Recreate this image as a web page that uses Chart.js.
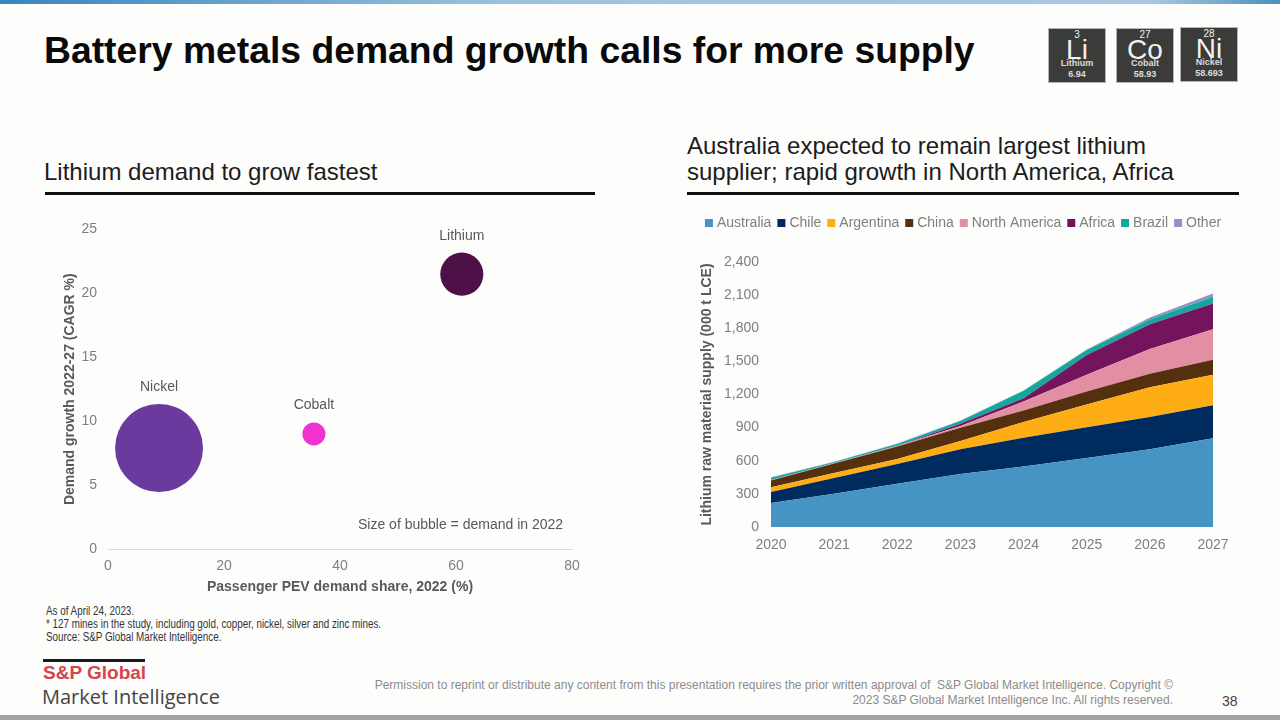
<!DOCTYPE html>
<html>
<head>
<meta charset="utf-8">
<title>Battery metals demand growth</title>
<script src="https://cdn.jsdelivr.net/npm/chart.js@4"></script>
<style>
  html, body { margin: 0; padding: 0; background: #fdfdfc; }
  body { width: 1280px; height: 720px; position: relative; overflow: hidden; font-family: "Liberation Sans", Arial, sans-serif; }
  .abs { position: absolute; white-space: nowrap; }
  canvas { position: absolute; }
  .topbar { left: 0; top: 0; width: 1280px; height: 4px; background: linear-gradient(90deg, #3a85bd, #9cc3de 40%, #a8c8e0 90%, #4a90bd); }
  .bottombar { left: 0; top: 715px; width: 1280px; height: 5px; background: #a2a2a2; }
  .title { left: 44px; top: 29px; font-size: 37.3px; font-weight: bold; color: #0a0a0a; }
  .heading { font-size: 24px; line-height: 26px; color: #1c1c1c; }
  .rule { height: 3px; background: #111; top: 192px; }
  .tile { background: #3b3b39; color: #f2f2f2; width: 58px; height: 55px; text-align: center; border: 1px solid #b5b5b5; box-sizing: border-box; }
  .tile span { position: absolute; left: 0; width: 100%; }
  .tile .num { top: 0; font-size: 10px; }
  .tile .sym { top: 5px; font-size: 28px; }
  .tile .name { top: 29px; font-size: 9px; font-weight: bold; color: #dcdcdc; }
  .tile .mass { top: 40px; font-size: 9px; font-weight: bold; color: #dcdcdc; }
  .note { font-size: 12px; line-height: 13px; color: #333; left: 46px; top: 605px; transform: scaleX(0.82); transform-origin: left top; }
  .logo-line { left: 43px; top: 659px; width: 102px; height: 3px; background: #1a1a1a; }
  .logo-red { left: 43px; top: 662px; font-size: 19px; font-weight: bold; color: #d6444c; }
  .logo-grey { left: 42px; top: 683px; font-family: "Open Sans", sans-serif; font-size: 20px; color: #444; }
  .legal { right: 107px; top: 678px; text-align: right; font-size: 12px; line-height: 15px; color: #8c8c8c; }
  .page { left: 1222px; top: 693px; font-size: 14px; color: #444; }
  .size-note { left: 358px; top: 516px; font-size: 14px; color: #595959; }
</style>
</head>
<body>
<div class="abs topbar"></div>
<div class="abs title">Battery metals demand growth calls for more supply</div>

<div class="abs tile" style="left:1048px;top:28px"><span class="num">3</span><span class="sym">Li</span><span class="name">Lithium</span><span class="mass">6.94</span></div>
<div class="abs tile" style="left:1116px;top:28px"><span class="num">27</span><span class="sym">Co</span><span class="name">Cobalt</span><span class="mass">58.93</span></div>
<div class="abs tile" style="left:1180px;top:27px"><span class="num">28</span><span class="sym">Ni</span><span class="name">Nickel</span><span class="mass">58.693</span></div>

<div class="abs heading" style="left:44px;top:159px">Lithium demand to grow fastest</div>
<div class="abs rule" style="left:45px;width:550px"></div>
<div class="abs heading" style="left:687px;top:133px">Australia expected to remain largest lithium<br>supplier; rapid growth in North America, Africa</div>
<div class="abs rule" style="left:687px;width:552px"></div>

<canvas id="bubbleChart" style="left:50px;top:210px"></canvas>
<canvas id="areaChart" style="left:695px;top:205px"></canvas>
<div class="abs size-note">Size of bubble = demand in 2022</div>

<div class="abs note">As of April 24, 2023.<br>* 127 mines in the study, including gold, copper, nickel, silver and zinc mines.<br>Source: S&amp;P Global Market Intelligence.</div>
<div class="abs logo-line"></div>
<div class="abs logo-red">S&amp;P Global</div>
<div class="abs logo-grey">Market Intelligence</div>
<div class="abs legal">Permission to reprint or distribute any content from this presentation requires the prior written approval of&nbsp; S&amp;P Global Market Intelligence. Copyright ©<br>2023 S&amp;P Global Market Intelligence Inc. All rights reserved.</div>
<div class="abs page">38</div>
<div class="abs bottombar"></div>

<script>
// left chart: passenger PEV share vs demand growth, bubble area = demand
const metals = ['Lithium', 'Cobalt', 'Nickel'];
const pevShare = [61, 35.5, 8.8];
const demandGrowth = [21.5, 9, 7.9];
const demand2022 = [720, 205, 3000];
const metalColors = ['#4d1148', '#f032d0', '#6b3a9e'];

// right chart: lithium supply by region, 000 t LCE
const years = ['2020', '2021', '2022', '2023', '2024', '2025', '2026', '2027'];
const australia = [218, 301, 391, 480, 549, 624, 704, 803];
const chile = [98, 142, 179, 225, 260, 280, 293, 299];
const argentina = [45, 45, 45, 75, 141, 206, 268, 277];
const china = [60, 87, 113, 119, 105, 118, 123, 135];
const northAmerica = [4, 5, 7, 15, 82, 152, 224, 277];
const africa = [0, 0, 0, 20, 28, 178, 224, 233];
const brazil = [22, 8, 17, 26, 68, 45, 44, 62];
const other = [3, 2, 5, 5, 3, 5, 17, 28];

const greyText = '#7f7f7f';
const axisTitle = '#595959';
const fontFamily = '"Liberation Sans", Arial, sans-serif';

function sizeCanvas(id, w, h) {
  const c = document.getElementById(id);
  c.width = w;
  c.height = h;
  return c;
}

// names above the bubbles
const bubbleLabels = {
  id: 'bubbleLabels',
  afterDatasetsDraw(chart) {
    const { ctx } = chart;
    const pts = chart.getDatasetMeta(0).data;
    ctx.save();
    ctx.font = '14px ' + fontFamily;
    ctx.fillStyle = '#595959';
    ctx.textAlign = 'center';
    pts.forEach((pt, i) => {
      ctx.fillText(metals[i], pt.x, pt.y - pt.options.radius - 13);
    });
    ctx.restore();
  }
};

// extra room under the legend
const legendGap = {
  id: 'legendGap',
  beforeInit(chart) {
    const fit = chart.legend.fit;
    chart.legend.fit = function () {
      fit.call(this);
      this.height += 22;
    };
  }
};

new Chart(sizeCanvas('bubbleChart', 550, 390), {
  type: 'bubble',
  data: {
    datasets: [{
      label: 'Demand',
      data: metals.map((m, i) => ({ x: pevShare[i], y: demandGrowth[i], r: Math.sqrt(demand2022[i]) * 0.803 })),
      backgroundColor: metalColors,
      borderWidth: 0
    }]
  },
  plugins: [bubbleLabels],
  options: {
    responsive: false,
    animation: false,
    layout: { autoPadding: false, padding: { top: 18, right: 28 } },
    plugins: { legend: { display: false }, tooltip: { enabled: false } },
    scales: {
      x: {
        min: 0, max: 80,
        ticks: { stepSize: 20, color: greyText, font: { size: 14, family: fontFamily }, padding: 9 },
        grid: { display: false, drawTicks: false },
        border: { color: '#d9d9d9' },
        title: { display: true, text: 'Passenger PEV demand share, 2022 (%)', color: axisTitle, font: { size: 14, weight: 'bold', family: fontFamily }, padding: { top: 0, bottom: 4 } },
        afterFit(scale) { scale.height = 51; }
      },
      y: {
        min: 0, max: 25,
        ticks: { stepSize: 5, color: greyText, font: { size: 14, family: fontFamily }, padding: 11 },
        grid: { display: false, drawTicks: false },
        border: { display: false },
        title: { display: true, text: 'Demand growth 2022-27 (CAGR %)', color: axisTitle, font: { size: 14, weight: 'bold', family: fontFamily }, padding: { top: 12, bottom: 0 } },
        afterFit(scale) { scale.width = 58; }
      }
    }
  }
});

const seriesNames = ['Australia', 'Chile', 'Argentina', 'China', 'North America', 'Africa', 'Brazil', 'Other'];
const seriesValues = [australia, chile, argentina, china, northAmerica, africa, brazil, other];
const seriesColors = ['#4594c4', '#002b5e', '#ffad14', '#55300f', '#e38fa3', '#74145f', '#14a89c', '#9490c8'];

new Chart(sizeCanvas('areaChart', 539, 355), {
  type: 'line',
  data: {
    labels: years,
    datasets: seriesNames.map((name, i) => ({
      label: name,
      data: seriesValues[i],
      backgroundColor: seriesColors[i],
      borderWidth: 0,
      pointRadius: 0,
      tension: 0,
      fill: i === 0 ? 'origin' : '-1'
    }))
  },
  plugins: [legendGap],
  options: {
    responsive: false,
    animation: false,
    layout: { autoPadding: false, padding: { top: 2 } },
    plugins: {
      tooltip: { enabled: false },
      legend: {
        position: 'top',
        labels: { usePointStyle: true, pointStyle: 'rect', boxWidth: 2, boxHeight: 8, padding: 9, color: greyText, font: { size: 14, family: fontFamily } }
      }
    },
    scales: {
      x: {
        offset: false,
        ticks: { color: greyText, font: { size: 14, family: fontFamily }, maxRotation: 0, padding: 10 },
        grid: { display: false, drawTicks: false },
        border: { display: false },
        afterFit(scale) { scale.height = 33; scale.paddingRight = 21; }
      },
      y: {
        stacked: true,
        min: 0, max: 2400,
        ticks: { stepSize: 300, color: greyText, font: { size: 14, family: fontFamily }, padding: 12 },
        grid: { display: false, drawTicks: false },
        border: { display: false },
        title: { display: true, text: 'Lithium raw material supply (000 t LCE)', color: axisTitle, font: { size: 14, weight: 'bold', family: fontFamily }, padding: { top: 4, bottom: 0 } },
        afterFit(scale) { scale.width = 76; }
      }
    }
  }
});
</script>
</body>
</html>
